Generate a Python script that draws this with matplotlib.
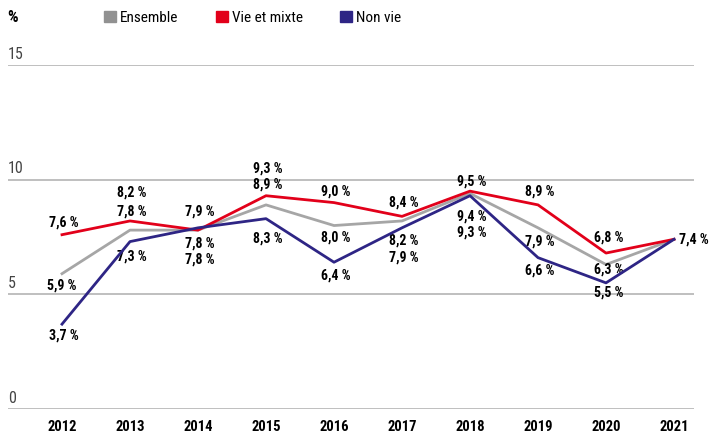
import numpy as np
import matplotlib
matplotlib.use('Agg')
import matplotlib.pyplot as plt
from matplotlib.patches import Patch
import matplotlib.transforms as mtransforms

plt.rcParams['font.family'] = ['Roboto Condensed', 'DejaVu Sans']

years = [2012, 2013, 2014, 2015, 2016, 2017, 2018, 2019, 2020, 2021]
ensemble = [5.9, 7.8, 7.8, 8.9, 8.0, 8.2, 9.4, 7.9, 6.3, 7.4]
vie_mixte = [7.6, 8.2, 7.8, 9.3, 9.0, 8.4, 9.5, 8.9, 6.8, 7.4]
non_vie = [3.7, 7.3, 7.9, 8.3, 6.4, 7.9, 9.3, 6.6, 5.5, 7.4]
y_ticks = [0, 5, 10, 15]

c_ens = '#a6a6a6'
c_vie = '#e2001a'
c_non = '#2e2585'

# label offsets in pixels (dx, dy), dy positive = up
off_ens = [(0, -12), (2, 19), (2, -13), (2, 20), (2, -12), (2, -20), (2, -23), (2, -14), (3, -5), None]
off_vie = [(2, 12), (2, 28), (2, -29), (2, 27), (2, 11), (2, 14), (2, 10), (2, 13), (3, 16), 'right']
off_non = [(2, -11), (2, -15), (2, 16), (2, -20), (2, -13), (2, -30), (2, -37), (2, -13), (3, -10), None]

fig = plt.figure(figsize=(7.1, 4.34), dpi=100)
ax = fig.add_axes([8 / 710, 25 / 434, 686 / 710, 344 / 434])

ax.set_ylim(0, 15)
ax.set_xlim(2012 - 54 / 68, 2021 + 20 / 68)

ylab = mtransforms.blended_transform_factory(ax.transAxes, ax.transData) + \
    mtransforms.ScaledTranslation(0, 2.5 / 72, fig.dpi_scale_trans)
for t in y_ticks:
    ax.axhline(t, color='#b4b4b4', lw=1.2, zorder=0)
    ax.text(0, t, str(t), transform=ylab, ha='left', va='bottom', fontsize=11.5, color='#444444')

ax.plot(years, ensemble, color=c_ens, lw=2.0, zorder=2)
ax.plot(years, vie_mixte, color=c_vie, lw=2.0, zorder=3)
ax.plot(years, non_vie, color=c_non, lw=2.0, zorder=4)


def fmt(v):
    return ('%.1f' % v).replace('.', ',') + ' %'


for vals, offs in [(ensemble, off_ens), (vie_mixte, off_vie), (non_vie, off_non)]:
    for x, v, o in zip(years, vals, offs):
        if o is None:
            continue
        if o == 'right':
            ax.annotate(fmt(v), (x, v), xytext=(5 * 0.72, 0), textcoords='offset points',
                        ha='left', va='center', fontsize=10, fontweight='bold', color='black')
        else:
            ax.annotate(fmt(v), (x, v), xytext=(o[0] * 0.72, o[1] * 0.72), textcoords='offset points',
                        ha='center', va='center', fontsize=10, fontweight='bold', color='black')

ax.set_xticks(years)
ax.set_xticklabels([str(y) for y in years], fontsize=10.5, fontweight='bold')
ax.tick_params(axis='x', length=0, pad=8)
ax.set_yticks([])
for s in ax.spines.values():
    s.set_visible(False)

fig.text(7 / 710, 1 - 18 / 434, '%', fontsize=12, fontweight='bold', ha='left', va='center')

handles = [Patch(color='#919191', label='Ensemble'),
           Patch(color=c_vie, label='Vie et mixte'),
           Patch(color=c_non, label='Non vie')]
fig.legend(handles=handles, loc='center left', bbox_to_anchor=(104 / 710, 1 - 18 / 434),
           ncol=3, frameon=False, fontsize=11, handlelength=0.78, handleheight=0.78,
           handletextpad=0.27, columnspacing=2.45, borderpad=0, borderaxespad=0)

fig.savefig('out.png', dpi=100)
